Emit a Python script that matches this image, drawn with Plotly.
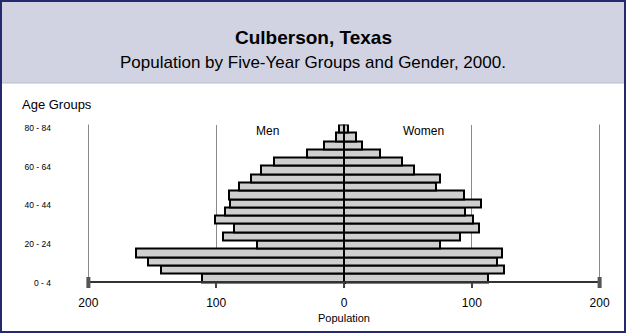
import numpy as np
import plotly.graph_objects as go

# ---- data (bottom row first) ----
age_groups = ["0 - 4", "5 - 9", "10 - 14", "15 - 19", "20 - 24", "25 - 29", "30 - 34",
              "35 - 39", "40 - 44", "45 - 49", "50 - 54", "55 - 59", "60 - 64",
              "65 - 69", "70 - 74", "75 - 79", "80 - 84", "85 - 89", "90 +"]
men = [111, 143, 153, 163, 68, 95, 86, 101, 93, 89, 90, 82, 73, 65, 55, 29, 16, 6, 4]
women = [113, 125, 120, 124, 75, 91, 106, 101, 95, 107, 94, 72, 75, 55, 45, 28, 14, 9, 3]
shown_labels = ["0 - 4", "20 - 24", "40 - 44", "60 - 64", "80 - 84"]
x_ticks = [-200, -100, 0, 100, 200]
x_tick_text = ["200", "100", "0", "100", "200"]

W, H = 626, 333
def px(x): return x / W
def py(y): return 1 - y / H

rows = list(range(len(age_groups)))
label_pos = list(np.linspace(-0.6, 18.1, len(shown_labels)))

fig = go.Figure()
bar_style = dict(orientation="h", marker=dict(color="#cfcfcf", line=dict(color="#000000", width=2)),
                 width=1.0, hoverinfo="text", showlegend=False)
fig.add_trace(go.Bar(y=rows, x=[-v for v in men],
                     hovertext=[f"Men {a}: {v}" for a, v in zip(age_groups, men)], **bar_style))
fig.add_trace(go.Bar(y=rows, x=women,
                     hovertext=[f"Women {a}: {v}" for a, v in zip(age_groups, women)], **bar_style))

# edge grid lines at the outer ticks, axis baseline and end caps
axis_deco = [dict(type="line", xref="paper", yref="paper", x0=px(e), x1=px(e), y0=py(284), y1=py(124.5),
                  line=dict(color="#8a8a8a", width=1), layer="above") for e in (88.5, 599.5)]
axis_deco += [dict(type="line", xref="x", yref="paper", x0=x_ticks[0], x1=x_ticks[-1],
                   y0=py(282), y1=py(282), line=dict(color="#333333", width=2))]
axis_deco += [dict(type="line", xref="x", yref="paper", x0=v, x1=v, y0=py(288), y1=py(277),
                   line=dict(color="#555555", width=4)) for v in (x_ticks[0], x_ticks[-1])]

fig.update_layout(
    template="none",
    width=W, height=H,
    margin=dict(l=0, r=0, t=0, b=0),
    paper_bgcolor="white", plot_bgcolor="white",
    barmode="overlay", bargap=0,
    font=dict(family="Liberation Sans, Arial, sans-serif", color="#000000"),
    xaxis=dict(domain=[px(82), px(606)], range=[-205, 205], anchor="free", position=py(282),
               tickvals=x_ticks, ticktext=x_tick_text, tickfont=dict(size=12),
               showgrid=True, gridcolor="#8a8a8a", gridwidth=1,
               zeroline=True, zerolinecolor="#000000", zerolinewidth=3,
               showline=False,
               ticks="outside", ticklen=5, tickwidth=2, tickcolor="#444444",
               ticklabelstandoff=5,
               title=dict(text="Population", font=dict(size=11), standoff=4),
               automargin=False, fixedrange=True),
    yaxis=dict(domain=[py(284.1), py(124.5)], range=[-0.75, 18.5],
               tickvals=label_pos, ticktext=shown_labels, tickfont=dict(size=8.5),
               showgrid=False, zeroline=False, showline=False, ticks="",
               ticklabelstandoff=30, automargin=False, fixedrange=True),
    shapes=[
        dict(type="rect", xref="paper", yref="paper", x0=px(2), x1=px(624), y0=py(83), y1=py(2),
             fillcolor="#d1d3e3", line=dict(width=0), layer="below"),
        dict(type="line", xref="paper", yref="paper", x0=px(2), x1=px(624), y0=py(83), y1=py(83),
             line=dict(color="#b9bccf", width=1)),
        dict(type="rect", xref="paper", yref="paper", x0=px(1), x1=px(625), y0=py(332), y1=py(1),
             line=dict(color="#26296e", width=2)),
    ] + axis_deco,
    annotations=[
        dict(text="<b>Culberson, Texas</b>", xref="paper", yref="paper", x=0.5, y=py(38),
             showarrow=False, font=dict(size=19), xanchor="center", yanchor="middle"),
        dict(text="Population by Five-Year Groups and Gender, 2000.", xref="paper", yref="paper",
             x=0.5, y=py(62), showarrow=False, font=dict(size=17), xanchor="center", yanchor="middle"),
        dict(text="Age Groups", xref="paper", yref="paper", x=px(20), y=py(104), showarrow=False,
             font=dict(size=13), xanchor="left", yanchor="middle"),
        dict(text="Men", xref="x", yref="paper", x=-60, y=py(131), showarrow=False,
             font=dict(size=12), xanchor="center", yanchor="middle"),
        dict(text="Women", xref="x", yref="paper", x=62, y=py(131), showarrow=False,
             font=dict(size=12), xanchor="center", yanchor="middle"),
    ],
)

fig.write_html("out.html", config={"displayModeBar": False},
               post_script="document.body.style.margin='0';document.body.style.overflow='hidden';")
